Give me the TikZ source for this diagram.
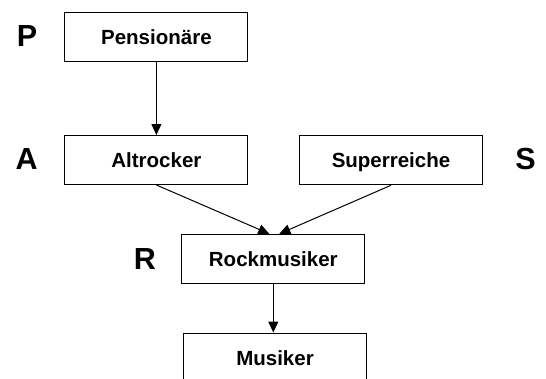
\documentclass[tikz,border=0pt]{standalone}
\usepackage{fontspec}
\setmainfont{Liberation Sans}
\usetikzlibrary{arrows.meta}
\begin{document}
\begin{tikzpicture}[x=1pt,y=-1pt,
  box/.style={draw,line width=1pt,minimum width=183pt,minimum height=49pt,inner sep=0pt,text height=15pt,text depth=0pt,font=\fontsize{20.5}{24}\selectfont\bfseries},
  lbl/.style={inner sep=0pt,anchor=base,font=\fontsize{30.5}{34}\selectfont\bfseries},
  arr/.style={line width=1pt,-{Triangle[length=11pt,width=10pt]}}]
\clip (0,0) rectangle (546,378);
\fill[white] (0,0) rectangle (546,378);
\node[box] (pen) at (156.4,37.2) {Pensionäre};
\node[box] (alt) at (156.4,160) {Altrocker};
\node[box] (sup) at (391,160.3) {Superreiche};
\node[box] (rock) at (273.3,258.8) {Rockmusiker};
\node[box] (mus) at (275,357.5) {Musiker};
\node[lbl] (lp) at (27,46.7) {P};
\node[lbl] (la) at (26.7,169.3) {A};
\node[lbl] (ls) at (525.5,169.3) {S};
\node[lbl] (lr) at (145,269.3) {R};
\draw[arr] (pen.south) -- (alt.north);
\draw[arr] (alt.south) -- ([xshift=-4pt]rock.north);
\draw[arr] (sup.south) -- ([xshift=6pt]rock.north);
\draw[arr] (rock.south) -- (rock.south |- mus.north);
\end{tikzpicture}
\end{document}
